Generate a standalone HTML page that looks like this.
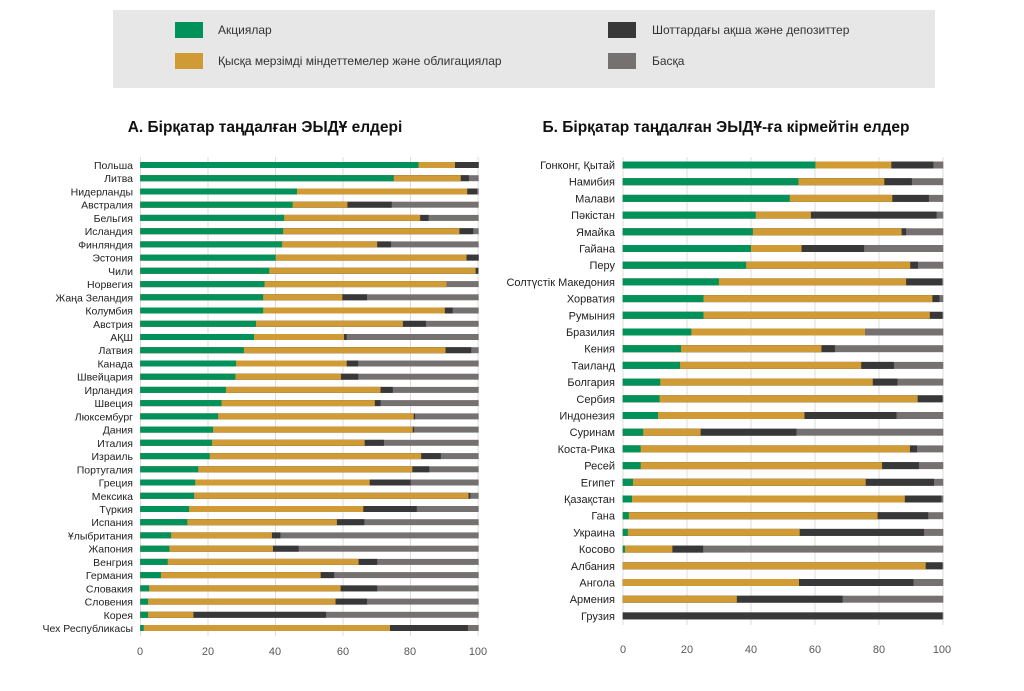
<!DOCTYPE html>
<html><head><meta charset="utf-8"><style>
body{margin:0;background:#fff;width:1024px;height:686px;overflow:hidden;font-family:"Liberation Sans","DejaVu Sans",sans-serif}
</style></head><body>
<svg width="1024" height="686" xmlns="http://www.w3.org/2000/svg" font-family="Liberation Sans, DejaVu Sans, sans-serif">
<rect x="113" y="10" width="822" height="78" fill="#e7e7e7"/>
<rect x="175" y="22" width="28" height="16" fill="#00925a"/>
<text x="218" y="34" font-size="12" fill="#333">Акциялар</text>
<rect x="175" y="53" width="28" height="16" fill="#d09a35"/>
<text x="218" y="65" font-size="12" fill="#333">Қысқа мерзімді міндеттемелер және облигациялар</text>
<rect x="608" y="22" width="28" height="16" fill="#383838"/>
<text x="652" y="34" font-size="12" fill="#333">Шоттардағы ақша және депозиттер</text>
<rect x="608" y="53" width="28" height="16" fill="#767171"/>
<text x="652" y="65" font-size="12" fill="#333">Басқа</text>

<text x="265" y="132" font-size="15.5" font-weight="bold" text-anchor="middle" fill="#111">А. Бірқатар таңдалған ЭЫДҰ елдері</text>
<text x="726" y="132" font-size="15.5" font-weight="bold" text-anchor="middle" fill="#111">Б. Бірқатар таңдалған ЭЫДҰ-ға кірмейтін елдер</text>

<!-- left grid -->
<g stroke="#dcdcdc" stroke-width="1">
<line x1="140.5" y1="157" x2="140.5" y2="636"/><line x1="208" y1="157" x2="208" y2="636"/><line x1="275.5" y1="157" x2="275.5" y2="636"/><line x1="343" y1="157" x2="343" y2="636"/><line x1="410.5" y1="157" x2="410.5" y2="636"/><line x1="478" y1="157" x2="478" y2="636"/>
<line x1="623" y1="157" x2="623" y2="625"/><line x1="687" y1="157" x2="687" y2="625"/><line x1="751" y1="157" x2="751" y2="625"/><line x1="815" y1="157" x2="815" y2="625"/><line x1="879" y1="157" x2="879" y2="625"/><line x1="943" y1="157" x2="943" y2="625"/>
</g>
<g font-size="11" fill="#595959" text-anchor="middle">
<text x="140" y="655">0</text><text x="208" y="655">20</text><text x="275" y="655">40</text><text x="343" y="655">60</text><text x="410" y="655">80</text><text x="478" y="655">100</text>
<text x="623" y="653">0</text><text x="687" y="653">20</text><text x="751" y="653">40</text><text x="815" y="653">60</text><text x="879" y="653">80</text><text x="942" y="653">100</text>
</g>

<g font-size="10.5" fill="#222" text-anchor="end">
<text x="133" y="169">Польша</text><text x="133" y="182.2">Литва</text><text x="133" y="195.5">Нидерланды</text><text x="133" y="208.7">Австралия</text><text x="133" y="221.9">Бельгия</text><text x="133" y="235.2">Исландия</text><text x="133" y="248.4">Финляндия</text><text x="133" y="261.6">Эстония</text><text x="133" y="274.8">Чили</text><text x="133" y="288.1">Норвегия</text><text x="133" y="301.3">Жаңа Зеландия</text><text x="133" y="314.5">Колумбия</text><text x="133" y="327.8">Австрия</text><text x="133" y="341">АҚШ</text><text x="133" y="354.2">Латвия</text><text x="133" y="367.5">Канада</text><text x="133" y="380.7">Швейцария</text><text x="133" y="393.9">Ирландия</text><text x="133" y="407.1">Швеция</text><text x="133" y="420.4">Люксембург</text><text x="133" y="433.6">Дания</text><text x="133" y="446.8">Италия</text><text x="133" y="460.1">Израиль</text><text x="133" y="473.3">Португалия</text><text x="133" y="486.5">Греция</text><text x="133" y="499.8">Мексика</text><text x="133" y="513">Түркия</text><text x="133" y="526.2">Испания</text><text x="133" y="539.4">Ұлыбритания</text><text x="133" y="552.7">Жапония</text><text x="133" y="565.9">Венгрия</text><text x="133" y="579.1">Германия</text><text x="133" y="592.4">Словакия</text><text x="133" y="605.6">Словения</text><text x="133" y="618.8">Корея</text><text x="133" y="632">Чех Республикасы</text>
</g>

<g font-size="11" fill="#222" text-anchor="end">
<text x="615" y="169">Гонконг, Қытай</text><text x="615" y="185.7">Намибия</text><text x="615" y="202.4">Малави</text><text x="615" y="219.1">Пәкістан</text><text x="615" y="235.8">Ямайка</text><text x="615" y="252.5">Гайана</text><text x="615" y="269.2">Перу</text><text x="615" y="285.9">Солтүстік Македония</text><text x="615" y="302.6">Хорватия</text><text x="615" y="319.3">Румыния</text><text x="615" y="336">Бразилия</text><text x="615" y="352.7">Кения</text><text x="615" y="369.4">Таиланд</text><text x="615" y="386.1">Болгария</text><text x="615" y="402.8">Сербия</text><text x="615" y="419.5">Индонезия</text><text x="615" y="436.2">Суринам</text><text x="615" y="452.9">Коста-Рика</text><text x="615" y="469.6">Ресей</text><text x="615" y="486.3">Египет</text><text x="615" y="503">Қазақстан</text><text x="615" y="519.7">Гана</text><text x="615" y="536.4">Украина</text><text x="615" y="553.1">Косово</text><text x="615" y="569.8">Албания</text><text x="615" y="586.5">Ангола</text><text x="615" y="603.2">Армения</text><text x="615" y="619.9">Грузия</text>
</g>

<!-- LEFT bars: gray full, dark to c, gold to b, green to a -->
<g transform="translate(140.3,0) scale(3.384,1)">
<g fill="#767171">
<rect x="0" y="162" width="100" height="6"/><rect x="0" y="175.2" width="100" height="6"/><rect x="0" y="188.5" width="100" height="6"/><rect x="0" y="201.7" width="100" height="6"/><rect x="0" y="214.9" width="100" height="6"/><rect x="0" y="228.2" width="100" height="6"/><rect x="0" y="241.4" width="100" height="6"/><rect x="0" y="254.6" width="100" height="6"/><rect x="0" y="267.8" width="100" height="6"/><rect x="0" y="281.1" width="100" height="6"/><rect x="0" y="294.3" width="100" height="6"/><rect x="0" y="307.5" width="100" height="6"/><rect x="0" y="320.8" width="100" height="6"/><rect x="0" y="334" width="100" height="6"/><rect x="0" y="347.2" width="100" height="6"/><rect x="0" y="360.5" width="100" height="6"/><rect x="0" y="373.7" width="100" height="6"/><rect x="0" y="386.9" width="100" height="6"/><rect x="0" y="400.1" width="100" height="6"/><rect x="0" y="413.4" width="100" height="6"/><rect x="0" y="426.6" width="100" height="6"/><rect x="0" y="439.8" width="100" height="6"/><rect x="0" y="453.1" width="100" height="6"/><rect x="0" y="466.3" width="100" height="6"/><rect x="0" y="479.5" width="100" height="6"/><rect x="0" y="492.8" width="100" height="6"/><rect x="0" y="506" width="100" height="6"/><rect x="0" y="519.2" width="100" height="6"/><rect x="0" y="532.4" width="100" height="6"/><rect x="0" y="545.7" width="100" height="6"/><rect x="0" y="558.9" width="100" height="6"/><rect x="0" y="572.1" width="100" height="6"/><rect x="0" y="585.4" width="100" height="6"/><rect x="0" y="598.6" width="100" height="6"/><rect x="0" y="611.8" width="100" height="6"/><rect x="0" y="625" width="100" height="6"/>
</g>
<g fill="#383838">
<rect x="0" y="162" width="100" height="6"/><rect x="0" y="175.2" width="97.1" height="6"/><rect x="0" y="188.5" width="99.5" height="6"/><rect x="0" y="201.7" width="74.3" height="6"/><rect x="0" y="214.9" width="85.2" height="6"/><rect x="0" y="228.2" width="98.4" height="6"/><rect x="0" y="241.4" width="74.1" height="6"/><rect x="0" y="254.6" width="100" height="6"/><rect x="0" y="267.8" width="99.8" height="6"/><rect x="0" y="281.1" width="90.5" height="6"/><rect x="0" y="294.3" width="67" height="6"/><rect x="0" y="307.5" width="92.3" height="6"/><rect x="0" y="320.8" width="84.4" height="6"/><rect x="0" y="334" width="61" height="6"/><rect x="0" y="347.2" width="97.8" height="6"/><rect x="0" y="360.5" width="64.4" height="6"/><rect x="0" y="373.7" width="64.4" height="6"/><rect x="0" y="386.9" width="74.6" height="6"/><rect x="0" y="400.1" width="71" height="6"/><rect x="0" y="413.4" width="81.2" height="6"/><rect x="0" y="426.6" width="80.9" height="6"/><rect x="0" y="439.8" width="72" height="6"/><rect x="0" y="453.1" width="88.8" height="6"/><rect x="0" y="466.3" width="85.4" height="6"/><rect x="0" y="479.5" width="79.9" height="6"/><rect x="0" y="492.8" width="97.5" height="6"/><rect x="0" y="506" width="81.7" height="6"/><rect x="0" y="519.2" width="66.2" height="6"/><rect x="0" y="532.4" width="41.4" height="6"/><rect x="0" y="545.7" width="46.8" height="6"/><rect x="0" y="558.9" width="70" height="6"/><rect x="0" y="572.1" width="57.3" height="6"/><rect x="0" y="585.4" width="70" height="6"/><rect x="0" y="598.6" width="67" height="6"/><rect x="0" y="611.8" width="54.9" height="6"/><rect x="0" y="625" width="96.8" height="6"/>
</g>
<g fill="#d09a35">
<rect x="0" y="162" width="93" height="6"/><rect x="0" y="175.2" width="94.7" height="6"/><rect x="0" y="188.5" width="96.6" height="6"/><rect x="0" y="201.7" width="61.2" height="6"/><rect x="0" y="214.9" width="82.7" height="6"/><rect x="0" y="228.2" width="94.3" height="6"/><rect x="0" y="241.4" width="70" height="6"/><rect x="0" y="254.6" width="96.4" height="6"/><rect x="0" y="267.8" width="99.1" height="6"/><rect x="0" y="281.1" width="90.5" height="6"/><rect x="0" y="294.3" width="59.7" height="6"/><rect x="0" y="307.5" width="90" height="6"/><rect x="0" y="320.8" width="77.6" height="6"/><rect x="0" y="334" width="60.2" height="6"/><rect x="0" y="347.2" width="90.2" height="6"/><rect x="0" y="360.5" width="61" height="6"/><rect x="0" y="373.7" width="59.3" height="6"/><rect x="0" y="386.9" width="71" height="6"/><rect x="0" y="400.1" width="69.3" height="6"/><rect x="0" y="413.4" width="80.8" height="6"/><rect x="0" y="426.6" width="80.5" height="6"/><rect x="0" y="439.8" width="66.3" height="6"/><rect x="0" y="453.1" width="83" height="6"/><rect x="0" y="466.3" width="80.4" height="6"/><rect x="0" y="479.5" width="67.8" height="6"/><rect x="0" y="492.8" width="97" height="6"/><rect x="0" y="506" width="65.9" height="6"/><rect x="0" y="519.2" width="58.1" height="6"/><rect x="0" y="532.4" width="38.9" height="6"/><rect x="0" y="545.7" width="39.2" height="6"/><rect x="0" y="558.9" width="64.5" height="6"/><rect x="0" y="572.1" width="53.3" height="6"/><rect x="0" y="585.4" width="59.2" height="6"/><rect x="0" y="598.6" width="57.7" height="6"/><rect x="0" y="611.8" width="15.7" height="6"/><rect x="0" y="625" width="73.8" height="6"/>
</g>
<g fill="#00925a">
<rect x="0" y="162" width="82.2" height="6"/><rect x="0" y="175.2" width="74.9" height="6"/><rect x="0" y="188.5" width="46.3" height="6"/><rect x="0" y="201.7" width="45" height="6"/><rect x="0" y="214.9" width="42.5" height="6"/><rect x="0" y="228.2" width="42.2" height="6"/><rect x="0" y="241.4" width="41.9" height="6"/><rect x="0" y="254.6" width="40" height="6"/><rect x="0" y="267.8" width="38.1" height="6"/><rect x="0" y="281.1" width="36.7" height="6"/><rect x="0" y="294.3" width="36.3" height="6"/><rect x="0" y="307.5" width="36.3" height="6"/><rect x="0" y="320.8" width="34.2" height="6"/><rect x="0" y="334" width="33.6" height="6"/><rect x="0" y="347.2" width="30.6" height="6"/><rect x="0" y="360.5" width="28.3" height="6"/><rect x="0" y="373.7" width="28.1" height="6"/><rect x="0" y="386.9" width="25.3" height="6"/><rect x="0" y="400.1" width="24" height="6"/><rect x="0" y="413.4" width="23" height="6"/><rect x="0" y="426.6" width="21.5" height="6"/><rect x="0" y="439.8" width="21.2" height="6"/><rect x="0" y="453.1" width="20.5" height="6"/><rect x="0" y="466.3" width="17.1" height="6"/><rect x="0" y="479.5" width="16.2" height="6"/><rect x="0" y="492.8" width="15.9" height="6"/><rect x="0" y="506" width="14.4" height="6"/><rect x="0" y="519.2" width="13.9" height="6"/><rect x="0" y="532.4" width="9.1" height="6"/><rect x="0" y="545.7" width="8.6" height="6"/><rect x="0" y="558.9" width="8.1" height="6"/><rect x="0" y="572.1" width="6.1" height="6"/><rect x="0" y="585.4" width="2.6" height="6"/><rect x="0" y="598.6" width="2.3" height="6"/><rect x="0" y="611.8" width="2.3" height="6"/><rect x="0" y="625" width="1" height="6"/>
</g>
</g>

<!-- RIGHT bars -->
<g transform="translate(622.7,0) scale(3.206,1)">
<g fill="#767171">
<rect x="0" y="161.5" width="100" height="7"/><rect x="0" y="178.2" width="100" height="7"/><rect x="0" y="194.9" width="100" height="7"/><rect x="0" y="211.6" width="100" height="7"/><rect x="0" y="228.3" width="100" height="7"/><rect x="0" y="245" width="100" height="7"/><rect x="0" y="261.7" width="100" height="7"/><rect x="0" y="278.4" width="100" height="7"/><rect x="0" y="295.1" width="100" height="7"/><rect x="0" y="311.8" width="100" height="7"/><rect x="0" y="328.5" width="100" height="7"/><rect x="0" y="345.2" width="100" height="7"/><rect x="0" y="361.9" width="100" height="7"/><rect x="0" y="378.6" width="100" height="7"/><rect x="0" y="395.3" width="100" height="7"/><rect x="0" y="412" width="100" height="7"/><rect x="0" y="428.7" width="100" height="7"/><rect x="0" y="445.4" width="100" height="7"/><rect x="0" y="462.1" width="100" height="7"/><rect x="0" y="478.8" width="100" height="7"/><rect x="0" y="495.5" width="100" height="7"/><rect x="0" y="512.2" width="100" height="7"/><rect x="0" y="528.9" width="100" height="7"/><rect x="0" y="545.6" width="100" height="7"/><rect x="0" y="562.3" width="100" height="7"/><rect x="0" y="579" width="100" height="7"/><rect x="0" y="595.7" width="100" height="7"/><rect x="0" y="612.4" width="100" height="7"/>
</g>
<g fill="#383838">
<rect x="0" y="161.5" width="96.9" height="7"/><rect x="0" y="178.2" width="90.2" height="7"/><rect x="0" y="194.9" width="95.5" height="7"/><rect x="0" y="211.6" width="97.9" height="7"/><rect x="0" y="228.3" width="88.4" height="7"/><rect x="0" y="245" width="75.3" height="7"/><rect x="0" y="261.7" width="92.1" height="7"/><rect x="0" y="278.4" width="99.6" height="7"/><rect x="0" y="295.1" width="98.8" height="7"/><rect x="0" y="311.8" width="99.7" height="7"/><rect x="0" y="328.5" width="75.6" height="7"/><rect x="0" y="345.2" width="66.2" height="7"/><rect x="0" y="361.9" width="84.6" height="7"/><rect x="0" y="378.6" width="85.7" height="7"/><rect x="0" y="395.3" width="99.7" height="7"/><rect x="0" y="412" width="85.4" height="7"/><rect x="0" y="428.7" width="54.2" height="7"/><rect x="0" y="445.4" width="91.8" height="7"/><rect x="0" y="462.1" width="92.4" height="7"/><rect x="0" y="478.8" width="97.1" height="7"/><rect x="0" y="495.5" width="99.4" height="7"/><rect x="0" y="512.2" width="95.3" height="7"/><rect x="0" y="528.9" width="94" height="7"/><rect x="0" y="545.6" width="25.1" height="7"/><rect x="0" y="562.3" width="99.7" height="7"/><rect x="0" y="579" width="90.7" height="7"/><rect x="0" y="595.7" width="68.6" height="7"/><rect x="0" y="612.4" width="99.7" height="7"/>
</g>
<g fill="#d09a35">
<rect x="0" y="161.5" width="83.8" height="7"/><rect x="0" y="178.2" width="81.6" height="7"/><rect x="0" y="194.9" width="84.1" height="7"/><rect x="0" y="211.6" width="58.7" height="7"/><rect x="0" y="228.3" width="87" height="7"/><rect x="0" y="245" width="55.8" height="7"/><rect x="0" y="261.7" width="89.7" height="7"/><rect x="0" y="278.4" width="88.4" height="7"/><rect x="0" y="295.1" width="96.6" height="7"/><rect x="0" y="311.8" width="95.8" height="7"/><rect x="0" y="328.5" width="75.6" height="7"/><rect x="0" y="345.2" width="62" height="7"/><rect x="0" y="361.9" width="74.4" height="7"/><rect x="0" y="378.6" width="78" height="7"/><rect x="0" y="395.3" width="92" height="7"/><rect x="0" y="412" width="56.7" height="7"/><rect x="0" y="428.7" width="24.3" height="7"/><rect x="0" y="445.4" width="89.6" height="7"/><rect x="0" y="462.1" width="80.9" height="7"/><rect x="0" y="478.8" width="75.8" height="7"/><rect x="0" y="495.5" width="88" height="7"/><rect x="0" y="512.2" width="79.5" height="7"/><rect x="0" y="528.9" width="55.2" height="7"/><rect x="0" y="545.6" width="15.5" height="7"/><rect x="0" y="562.3" width="94.5" height="7"/><rect x="0" y="579" width="55" height="7"/><rect x="0" y="595.7" width="35.6" height="7"/>
</g>
<g fill="#00925a">
<rect x="0" y="161.5" width="60.1" height="7"/><rect x="0" y="178.2" width="54.8" height="7"/><rect x="0" y="194.9" width="52.1" height="7"/><rect x="0" y="211.6" width="41.5" height="7"/><rect x="0" y="228.3" width="40.6" height="7"/><rect x="0" y="245" width="40" height="7"/><rect x="0" y="261.7" width="38.5" height="7"/><rect x="0" y="278.4" width="30" height="7"/><rect x="0" y="295.1" width="25.2" height="7"/><rect x="0" y="311.8" width="25.2" height="7"/><rect x="0" y="328.5" width="21.4" height="7"/><rect x="0" y="345.2" width="18.2" height="7"/><rect x="0" y="361.9" width="17.9" height="7"/><rect x="0" y="378.6" width="11.7" height="7"/><rect x="0" y="395.3" width="11.5" height="7"/><rect x="0" y="412" width="11" height="7"/><rect x="0" y="428.7" width="6.4" height="7"/><rect x="0" y="445.4" width="5.6" height="7"/><rect x="0" y="462.1" width="5.6" height="7"/><rect x="0" y="478.8" width="3.2" height="7"/><rect x="0" y="495.5" width="2.9" height="7"/><rect x="0" y="512.2" width="1.9" height="7"/><rect x="0" y="528.9" width="1.6" height="7"/><rect x="0" y="545.6" width="0.7" height="7"/>
</g>
</g>
</svg>
</body></html>
